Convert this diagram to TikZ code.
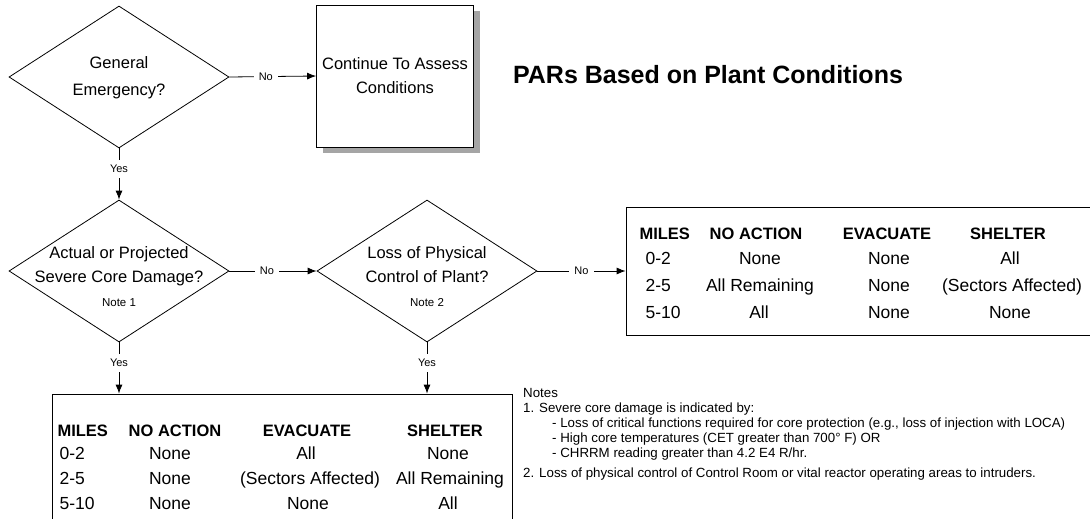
\documentclass[tikz,border=0pt]{standalone}
\usepackage{fontspec}
\setmainfont{Liberation Sans}
\usetikzlibrary{positioning}
\usetikzlibrary{shapes.geometric}
\usetikzlibrary{arrows.meta}
\usetikzlibrary{shadows}

\tikzset{
  decision/.style={diamond, draw, line width=0.8pt, minimum width=220pt, minimum height=142pt, inner sep=0pt},
  question/.style={align=center, font=\fontsize{16.5}{24}\selectfont},
  answer/.style={font=\fontsize{11}{13}\selectfont, fill=white, inner sep=5pt},
  parbox/.style={draw, line width=0.8pt, inner sep=0pt},
  head/.style={font=\bfseries\fontsize{16.5}{19}\selectfont, anchor=mid},
  cell/.style={font=\fontsize{17.5}{19}\selectfont, anchor=mid},
  miles/.style={font=\fontsize{17.5}{19}\selectfont, anchor=mid west},
  remark/.style={font=\fontsize{13.3}{15}\selectfont, anchor=mid west, inner sep=0pt},
}
\newcommand{\notesize}{\fontsize{11.5}{13}\selectfont}

\begin{document}
\begin{tikzpicture}[x=1pt, y=-1pt, >={Latex[length=9pt,width=7pt]}]
  \useasboundingbox (0,0) rectangle (1090,519);
  \clip (0,0) rectangle (1090,519);

  % decisions and first box
  \node[decision] (emerg) at (119,77) {};
  \node[question, font=\fontsize{16.5}{27}\selectfont] (emergq) at (119,78) {General\\Emergency?};
  \node[draw, line width=0.8pt, fill=white, minimum width=157pt, minimum height=142pt,
        drop shadow={shadow xshift=6pt, shadow yshift=-6pt, fill=black!70},
        question] (assess) at (395,76) {Continue To Assess\\Conditions};
  \node[font=\bfseries\fontsize{25}{30}\selectfont, anchor=mid] (title) at (708,81) {PARs Based on Plant Conditions};

  \node[decision] (core) at (119,271) {};
  \node[question] (coreq) at (119,277) {Actual or Projected\\Severe Core Damage?\\{\notesize Note 1}};
  \node[decision] (phys) at (427,271) {};
  \node[question] (physq) at (427,277) {Loss of Physical\\Control of Plant?\\{\notesize Note 2}};

  % tables
  \node[parbox, minimum width=480pt, minimum height=128pt] (parno) at (866,271) {};
  \node[parbox, minimum width=460pt, minimum height=140pt] (paryes) at (282,464) {};

  % connectors
  \draw[line width=0.8pt, ->] (emerg.east) -- node[answer, pos=0.42] {No} (assess.west);
  \draw[line width=0.8pt, ->] (emerg.south) -- node[answer, pos=0.4] {Yes} (core.north);
  \draw[line width=0.8pt, ->] (core.east) -- node[answer, pos=0.43] {No} (phys.west);
  \draw[line width=0.8pt, ->] (phys.east) -- node[answer] {No} (parno.west);
  \draw[line width=0.8pt, ->] (core.south) -- node[answer, pos=0.4] {Yes} (core.south |- paryes.north);
  \draw[line width=0.8pt, ->] (phys.south) -- node[answer, pos=0.4] {Yes} (phys.south |- paryes.north);

  % table when no loss of control
  \node[head, anchor=mid west] (nmh) at (636,237) {MILES};
  \node[head] (nnh) at (756,237) {NO ACTION};
  \node[head] (neh) at (887,237) {EVACUATE};
  \node[head] (nsh) at (1008,237) {SHELTER};
  \node[miles] (nm1) at (642,262) {0-2};
  \node[cell] (nn1) at (760,262) {None};
  \node[cell] (ne1) at (889,262) {None};
  \node[cell] (ns1) at (1010,262) {All};
  \node[miles] (nm2) at (642,289) {2-5};
  \node[cell] (nn2) at (760,289) {All Remaining};
  \node[cell] (ne2) at (889,289) {None};
  \node[cell] (ns2) at (1012,289) {(Sectors Affected)};
  \node[miles] (nm3) at (642,316) {5-10};
  \node[cell] (nn3) at (759,316) {All};
  \node[cell] (ne3) at (889,316) {None};
  \node[cell] (ns3) at (1010,316) {None};

  % table when core damage or loss of control
  \node[head, anchor=mid west] (ymh) at (54,434) {MILES};
  \node[head] (ynh) at (175,434) {NO ACTION};
  \node[head] (yeh) at (307,434) {EVACUATE};
  \node[head] (ysh) at (445,434) {SHELTER};
  \node[miles] (ym1) at (56,457) {0-2};
  \node[cell] (yn1) at (170,457) {None};
  \node[cell] (ye1) at (306,457) {All};
  \node[cell] (ys1) at (448,457) {None};
  \node[miles] (ym2) at (56,482) {2-5};
  \node[cell] (yn2) at (170,482) {None};
  \node[cell] (ye2) at (310,482) {(Sectors Affected)};
  \node[cell] (ys2) at (450,482) {All Remaining};
  \node[miles] (ym3) at (56,507) {5-10};
  \node[cell] (yn3) at (170,507) {None};
  \node[cell] (ye3) at (308,507) {None};
  \node[cell] (ys3) at (448,507) {All};

  % notes
  \node[remark] (n0) at (523,395) {Notes};
  \node[remark] (n1) at (523,410) {1. Severe core damage is indicated by:};
  \node[remark] (n1a) at (552,425) {- Loss of critical functions required for core protection (e.g., loss of injection with LOCA)};
  \node[remark] (n1b) at (552,440) {- High core temperatures (CET greater than 700° F) OR};
  \node[remark] (n1c) at (552,455) {- CHRRM reading greater than 4.2 E4 R/hr.};
  \node[remark] (n2) at (523,475) {2. Loss of physical control of Control Room or vital reactor operating areas to intruders.};
\end{tikzpicture}
\end{document}
